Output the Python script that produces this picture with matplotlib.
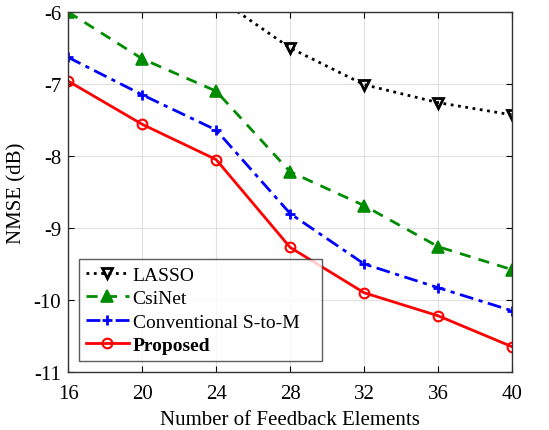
import matplotlib
matplotlib.use("Agg")
import matplotlib.pyplot as plt

x = [16, 20, 24, 28, 32, 36, 40]
lasso = [-4.6, -5.2, -5.79, -6.5, -7.01, -7.26, -7.43]
csinet = [-6.0, -6.65, -7.1, -8.22, -8.69, -9.26, -9.58]
conv = [-6.63, -7.15, -7.64, -8.8, -9.5, -9.83, -10.15]
proposed = [-6.96, -7.56, -8.05, -9.27, -9.9, -10.22, -10.65]
labels = ["LASSO", "CsiNet", "Conventional S-to-M", "Proposed"]

plt.rcParams['font.family'] = ['Liberation Serif', 'DejaVu Serif']
plt.rcParams['axes.unicode_minus'] = False
fig = plt.figure(figsize=(5.49, 4.31), dpi=100)
ax = fig.add_axes([0.124, 0.1346, 0.809, 0.8354])

ax.plot(x, lasso, color='black', linestyle=':', linewidth=2, marker='v',
        markersize=7, markerfacecolor='none', markeredgewidth=2, label=labels[0])
ax.plot(x, csinet, color=(0, 0.55, 0), linestyle='--', linewidth=2, marker='^',
        markersize=8, markerfacecolor=(0, 0.55, 0), markeredgewidth=1.2, label=labels[1],
        dashes=(4, 3))
ax.plot(x, conv, color='blue', linestyle='-.', linewidth=2, marker='+',
        markersize=7, markeredgewidth=2, label=labels[2], dashes=(5, 2, 1.5, 2))
ax.plot(x, proposed, color='red', linestyle='-', linewidth=2, marker='o',
        markersize=7, markerfacecolor='none', markeredgewidth=1.5, label=labels[3])

ax.set_xlim(16, 40)
ax.set_ylim(-11, -6)
ax.set_xticks(x)
ax.set_yticks([-11, -10, -9, -8, -7, -6])
ax.tick_params(direction='in', labelsize=15, top=True, right=True, length=4)
ax.tick_params(axis='x', pad=9)
ax.tick_params(axis='y', pad=5)
ax.grid(True, color='#e0e0e0', linewidth=0.8)
ax.set_axisbelow(True)
ax.set_xlabel("Number of Feedback Elements", fontsize=15, labelpad=5)
ax.set_ylabel("NMSE (dB)", fontsize=15, labelpad=5)
for s in ax.spines.values():
    s.set_linewidth(1.0)
    s.set_color('#333333')

leg = ax.legend(loc='lower left', bbox_to_anchor=(0.0248, 0.0306, 0.547, 0.28),
                mode='expand', fontsize=14,
                frameon=True, fancybox=False, edgecolor='#333333',
                borderpad=0.35, labelspacing=0.3, handlelength=2.2,
                handletextpad=0.2, borderaxespad=0)
leg.get_frame().set_linewidth(1.0)
leg.get_texts()[3].set_fontweight('bold')

fig.savefig("out.png", dpi=100)
